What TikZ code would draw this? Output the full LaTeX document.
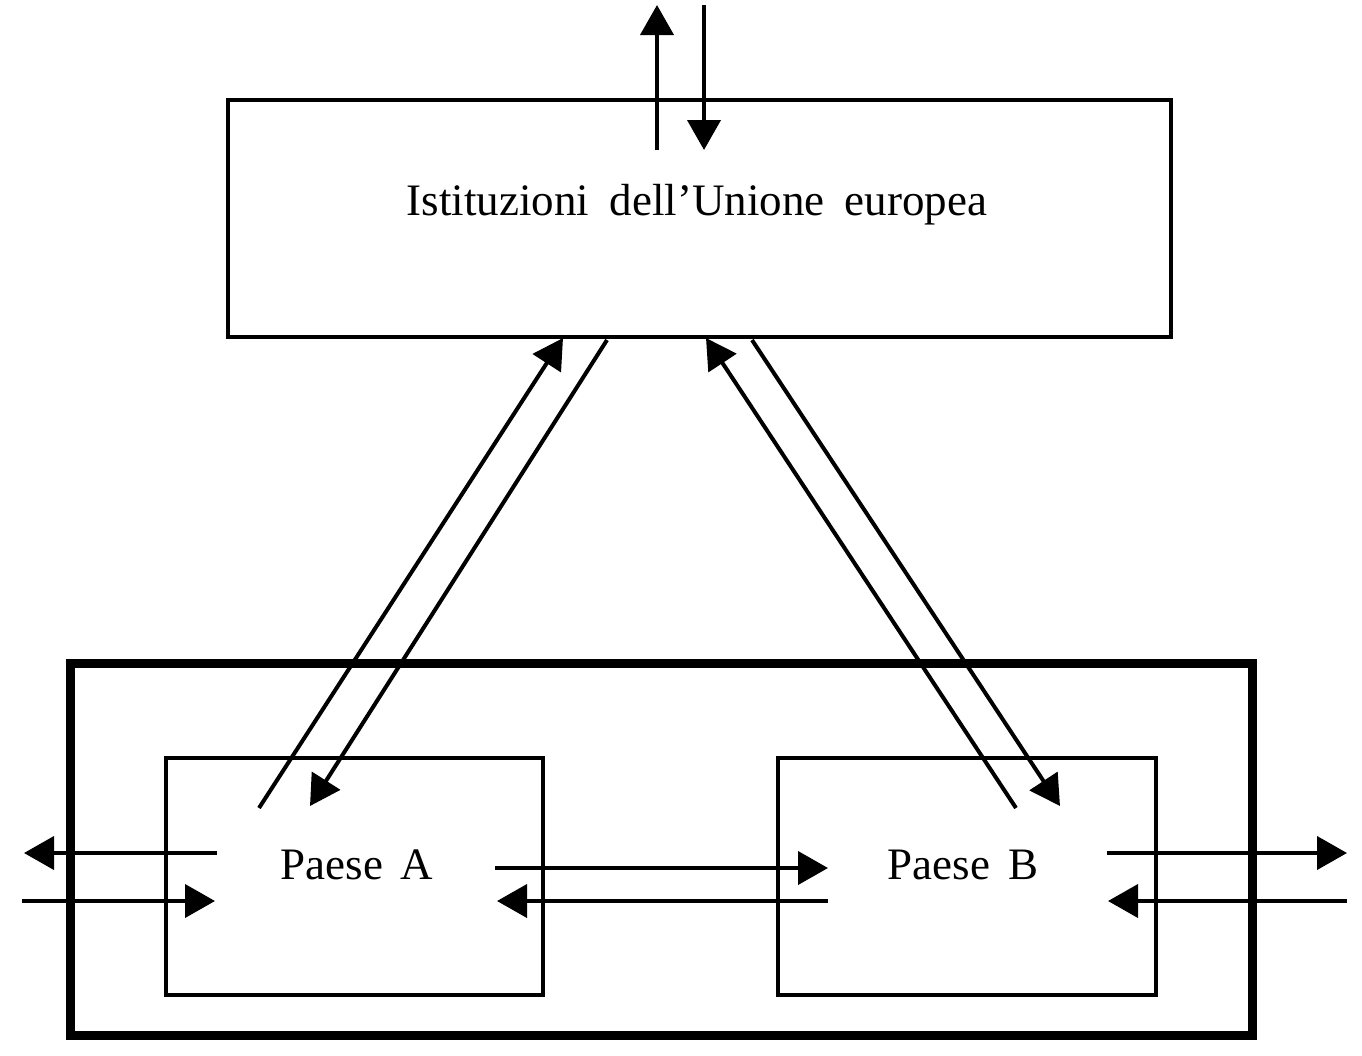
\documentclass[tikz,border=0pt]{standalone}
\usepackage{fontspec}
\setmainfont{Liberation Serif}
\usetikzlibrary{arrows.meta}
\begin{document}
\begin{tikzpicture}[x=1pt,y=-1pt,
  box/.style={draw,line width=4pt,rectangle,inner sep=0pt},
  outerbox/.style={draw,line width=9pt,rectangle,inner sep=0pt},
  lbl/.style={font=\fontsize{45}{50}\selectfont,inner sep=0pt},
  arr/.style={line width=4pt,-{Triangle[length=30pt,width=33pt]}}]
\useasboundingbox (0,0) rectangle (1362,1055);
% boxes
\node[box,minimum width=943pt,minimum height=237pt] (eu) at (699.5,218.5) {};
\node[outerbox,minimum width=1182pt,minimum height=372pt] (outer) at (661,849) {};
\node[box,minimum width=377pt,minimum height=237pt] (a) at (354.5,876.5) {};
\node[box,minimum width=378pt,minimum height=237pt] (b) at (967,876.5) {};
% labels
\node[lbl] (eutxt) at (697,205) {Istituzioni\hspace{0.45em}dell’Unione\hspace{0.45em}europea};
\node[lbl] (atxt) at (357,865) {Paese\hspace{0.4em}A};
\node[lbl] (btxt) at (963,865) {Paese\hspace{0.4em}B};
% coordinates
\coordinate (t1s) at (657,150); \coordinate (t1e) at (657,5);
\coordinate (t2s) at (704,5);   \coordinate (t2e) at (704,150);
\coordinate (d1s) at (259,808); \coordinate (d1e) at (563,338);
\coordinate (d2s) at (607,340); \coordinate (d2e) at (310,806);
\coordinate (d3s) at (1016,808); \coordinate (d3e) at (706,338);
\coordinate (d4s) at (752,340); \coordinate (d4e) at (1060,806);
\coordinate (m1s) at (495,868); \coordinate (m1e) at (828,868);
\coordinate (m2s) at (828,901); \coordinate (m2e) at (497,901);
\coordinate (l1s) at (217,853); \coordinate (l1e) at (24,853);
\coordinate (l2s) at (22,901);  \coordinate (l2e) at (215,901);
\coordinate (r1s) at (1107,853); \coordinate (r1e) at (1347,853);
\coordinate (r2s) at (1347,901); \coordinate (r2e) at (1108,901);
% arrows
\draw[arr] (t1s) -- (t1e);
\draw[arr] (t2s) -- (t2e);
\draw[arr] (d1s) -- (d1e);
\draw[arr] (d2s) -- (d2e);
\draw[arr] (d3s) -- (d3e);
\draw[arr] (d4s) -- (d4e);
\draw[arr] (m1s) -- (m1e);
\draw[arr] (m2s) -- (m2e);
\draw[arr] (l1s) -- (l1e);
\draw[arr] (l2s) -- (l2e);
\draw[arr] (r1s) -- (r1e);
\draw[arr] (r2s) -- (r2e);
\end{tikzpicture}
\end{document}
